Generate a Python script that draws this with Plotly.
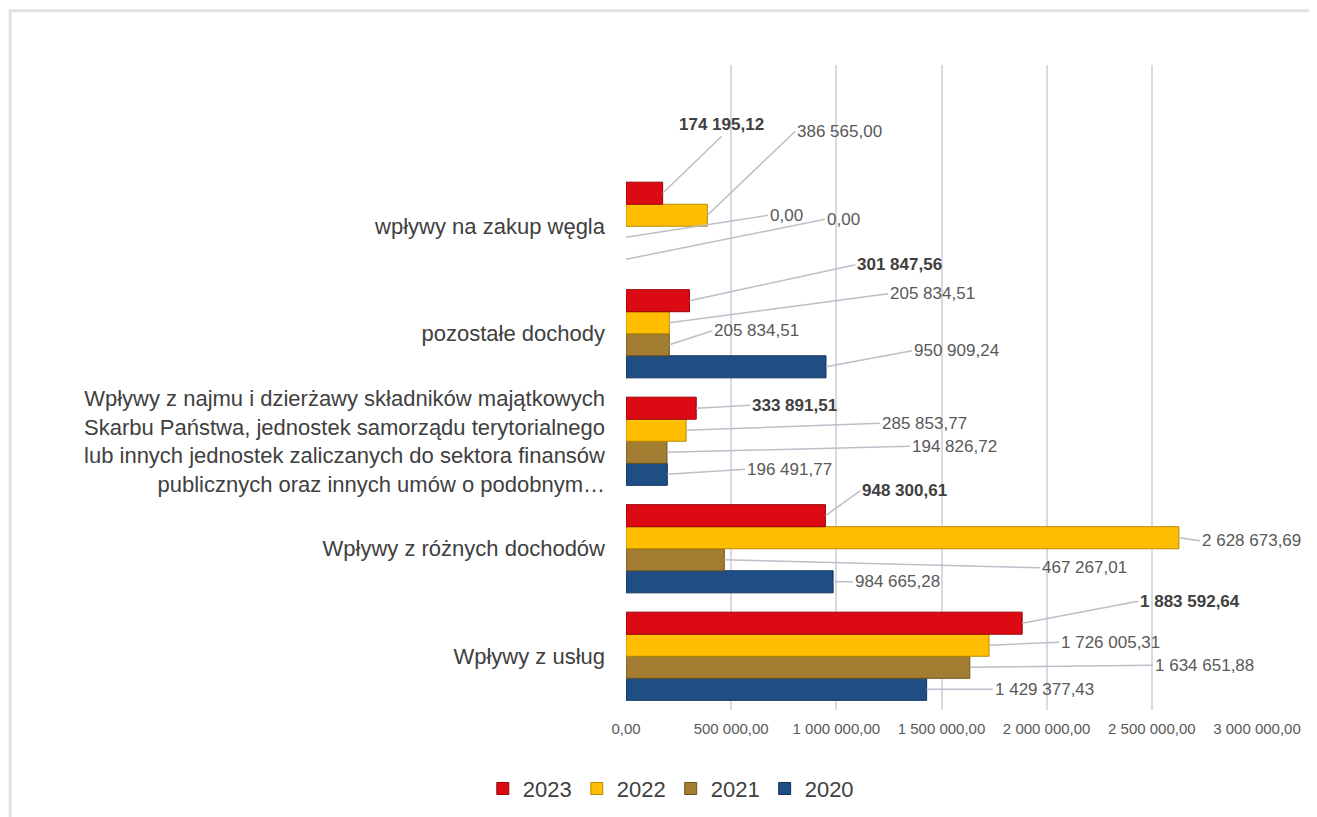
import plotly.graph_objects as go

# Categories, bottom to top as drawn
categories = [
    'Wpływy z usług',
    'Wpływy z różnych dochodów',
    'Wpływy z najmu i dzierżawy składników majątkowych<br>Skarbu Państwa, jednostek samorządu terytorialnego<br>lub innych jednostek zaliczanych do sektora finansów<br>publicznych oraz innych umów o podobnym…',
    'pozostałe dochody',
    'wpływy na zakup węgla',
]

years = ['2020', '2021', '2022', '2023']
v2020 = [1429377.43, 984665.28, 196491.77, 950909.24, 0.00]
v2021 = [1634651.88, 467267.01, 194826.72, 205834.51, 0.00]
v2022 = [1726005.31, 2628673.69, 285853.77, 205834.51, 386565.00]
v2023 = [1883592.64, 948300.61, 333891.51, 301847.56, 174195.12]

tick_vals = [0, 500000, 1000000, 1500000, 2000000, 2500000, 3000000]

colors = {'2020': '#1F4E85', '2021': '#A27D32', '2022': '#FFBF00', '2023': '#DC0A12'}
edges = {'2020': '#123360', '2021': '#6E531C', '2022': '#B88A00', '2023': '#9A0008'}


def pl(v):
    # polish number format: 1 234 567,89
    s = f'{v:,.2f}'
    return s.replace(',', ' ').replace('.', ',')


series = {'2020': v2020, '2021': v2021, '2022': v2022, '2023': v2023}
ypos = list(range(len(categories)))
bargap = 0.18

fig = go.Figure()
for yr in years:
    fig.add_trace(go.Bar(
        y=ypos, x=series[yr], orientation='h', name=yr,
        marker=dict(color=colors[yr],
                    line=dict(color=edges[yr], width=[1 if v > 0 else 0 for v in series[yr]])),
    ))

# label offsets in pixels (dx, dy) per year, per category (bottom to top)
offsets = {
    '2023': [(116, -22), (35, -25), (54, -3), (166, -36), (59, -57)],
    '2022': [(70, -3), (21, 3), (194, -7), (219, -29), (88, -84)],
    '2021': [(183, -2), (316, 8), (243, -6), (43, -14), (142, -22)],
    '2020': [(66, 0), (20, 0), (78, -5), (86, -16), (199, -40)],
}

w = (1 - bargap) / len(years)
for k, yr in enumerate(years):
    for i, v in enumerate(series[yr]):
        dx, dy = offsets[yr][i]
        bold = yr == '2023'
        top_label = bold and i == 4
        fig.add_annotation(
            x=v, y=i + (k - 1.5) * w,
            text=f'<b>{pl(v)}</b>' if bold else pl(v),
            showarrow=True, arrowhead=0, arrowwidth=1.5, arrowcolor='#BEBECA',
            ax=dx, ay=dy,
            xanchor='center' if top_label else 'left',
            yanchor='bottom' if top_label else 'middle',
            font=dict(size=17, color='#404040' if bold else '#595959'),
        )

fig.update_layout(
    width=1317, height=817,
    barmode='group', bargap=bargap,
    plot_bgcolor='white', paper_bgcolor='white',
    margin=dict(l=618, r=68, t=57, b=115),
    font=dict(family='Liberation Sans, Arial, sans-serif', color='#404040'),
    xaxis=dict(
        range=[0, 3000000], tickvals=tick_vals,
        ticktext=[pl(t) for t in tick_vals],
        tickfont=dict(size=15, color='#595959'),
        showgrid=True, gridcolor='#D9D9E0', gridwidth=1.5,
        zeroline=False, showline=False, ticks='',
        ticklabelstandoff=8,
    ),
    yaxis=dict(
        range=[-0.5, 5.5], tickvals=ypos, ticktext=categories,
        tickfont=dict(size=22, color='#404040'),
        showgrid=False, zeroline=False, showline=False, ticks='',
        ticklabelstandoff=20,
    ),
    legend=dict(
        orientation='h', traceorder='reversed',
        x=0.071, xanchor='center', y=-0.122, yanchor='middle',
        font=dict(size=22, color='#404040'),
    ),
    shapes=[dict(type='rect', xref='paper', yref='paper',
                 x0=-0.976, x1=1.2, y0=-0.2, y1=1.084,
                 line=dict(color='#E0E0E6', width=3), layer='below')],
)

fig.write_html('out.html')
